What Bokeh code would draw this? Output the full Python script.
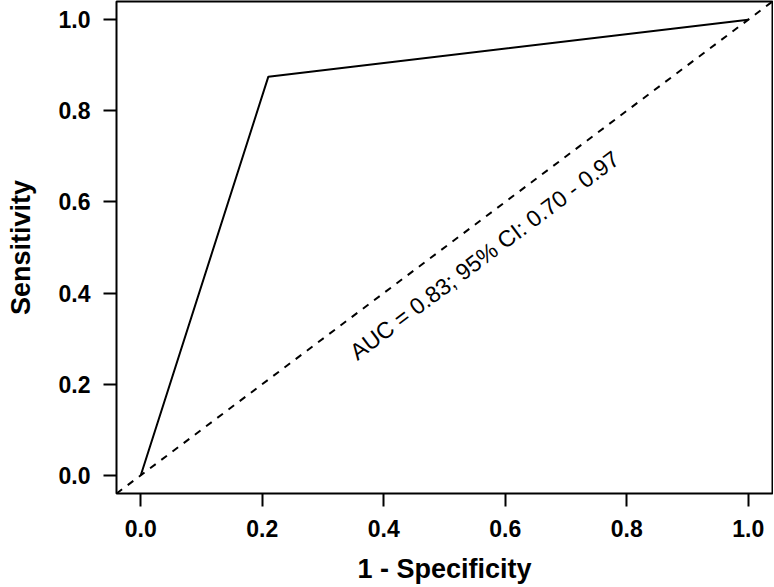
from bokeh.plotting import figure
from bokeh.models import Range1d, FixedTicker, PrintfTickFormatter, Slope
from bokeh.core.properties import value
from bokeh.embed import file_html
from bokeh.resources import INLINE

# ---- data ----
fpr = [0.0, 0.21, 1.0]          # 1 - Specificity
tpr = [0.0, 0.875, 1.0]         # Sensitivity
tick_values = [0.0, 0.2, 0.4, 0.6, 0.8, 1.0]
auc_label = ["AUC = 0.83; 95% CI: 0.70 - 0.97"]
auc_label_x = [0.566]
auc_label_y = [0.483]
x_title = "1 - Specificity"
y_title = "Sensitivity"

FONT = "Liberation Sans"

p = figure(width=773, height=586, output_backend="svg", toolbar_location=None,
           x_range=Range1d(-0.04, 1.04), y_range=Range1d(-0.04, 1.04),
           min_border_left=116, min_border_right=1, min_border_top=1, min_border_bottom=93)

p.background_fill_color = "white"
p.border_fill_color = "white"
p.outline_line_color = "black"
p.outline_line_width = 2
p.grid.visible = False

for ax in (p.xaxis[0], p.yaxis[0]):
    ax.ticker = FixedTicker(ticks=tick_values)
    ax.formatter = PrintfTickFormatter(format="%.1f")
    ax.axis_line_color = None
    ax.major_tick_line_color = "black"
    ax.major_tick_line_width = 2
    ax.major_tick_in = 0
    ax.major_tick_out = 13
    ax.minor_tick_line_color = None
    ax.major_label_text_font = FONT
    ax.major_label_text_font_style = "bold"
    ax.major_label_text_font_size = "23px"
    ax.major_label_text_color = "black"
    ax.axis_label_text_font = FONT
    ax.axis_label_text_font_style = "bold"
    ax.axis_label_text_font_size = "27px"
    ax.axis_label_text_color = "black"

p.xaxis.axis_label = x_title
p.yaxis.axis_label = y_title
p.xaxis.major_label_standoff = 13
p.yaxis.major_label_standoff = 13
p.xaxis.axis_label_standoff = 14
p.yaxis.axis_label_standoff = 20

# chance diagonal
p.add_layout(Slope(gradient=1, y_intercept=0, line_color="black", line_width=2, line_dash="7 7"))

# ROC curve
p.line(fpr, tpr, line_color="black", line_width=2)

# AUC annotation
p.text(x=auc_label_x, y=auc_label_y, text=auc_label, angle=37, angle_units="deg",
       text_align="center", text_baseline="alphabetic",
       text_font=value(FONT), text_font_size="23px", text_color="black")

open("out.html", "w").write(file_html(p, INLINE))
